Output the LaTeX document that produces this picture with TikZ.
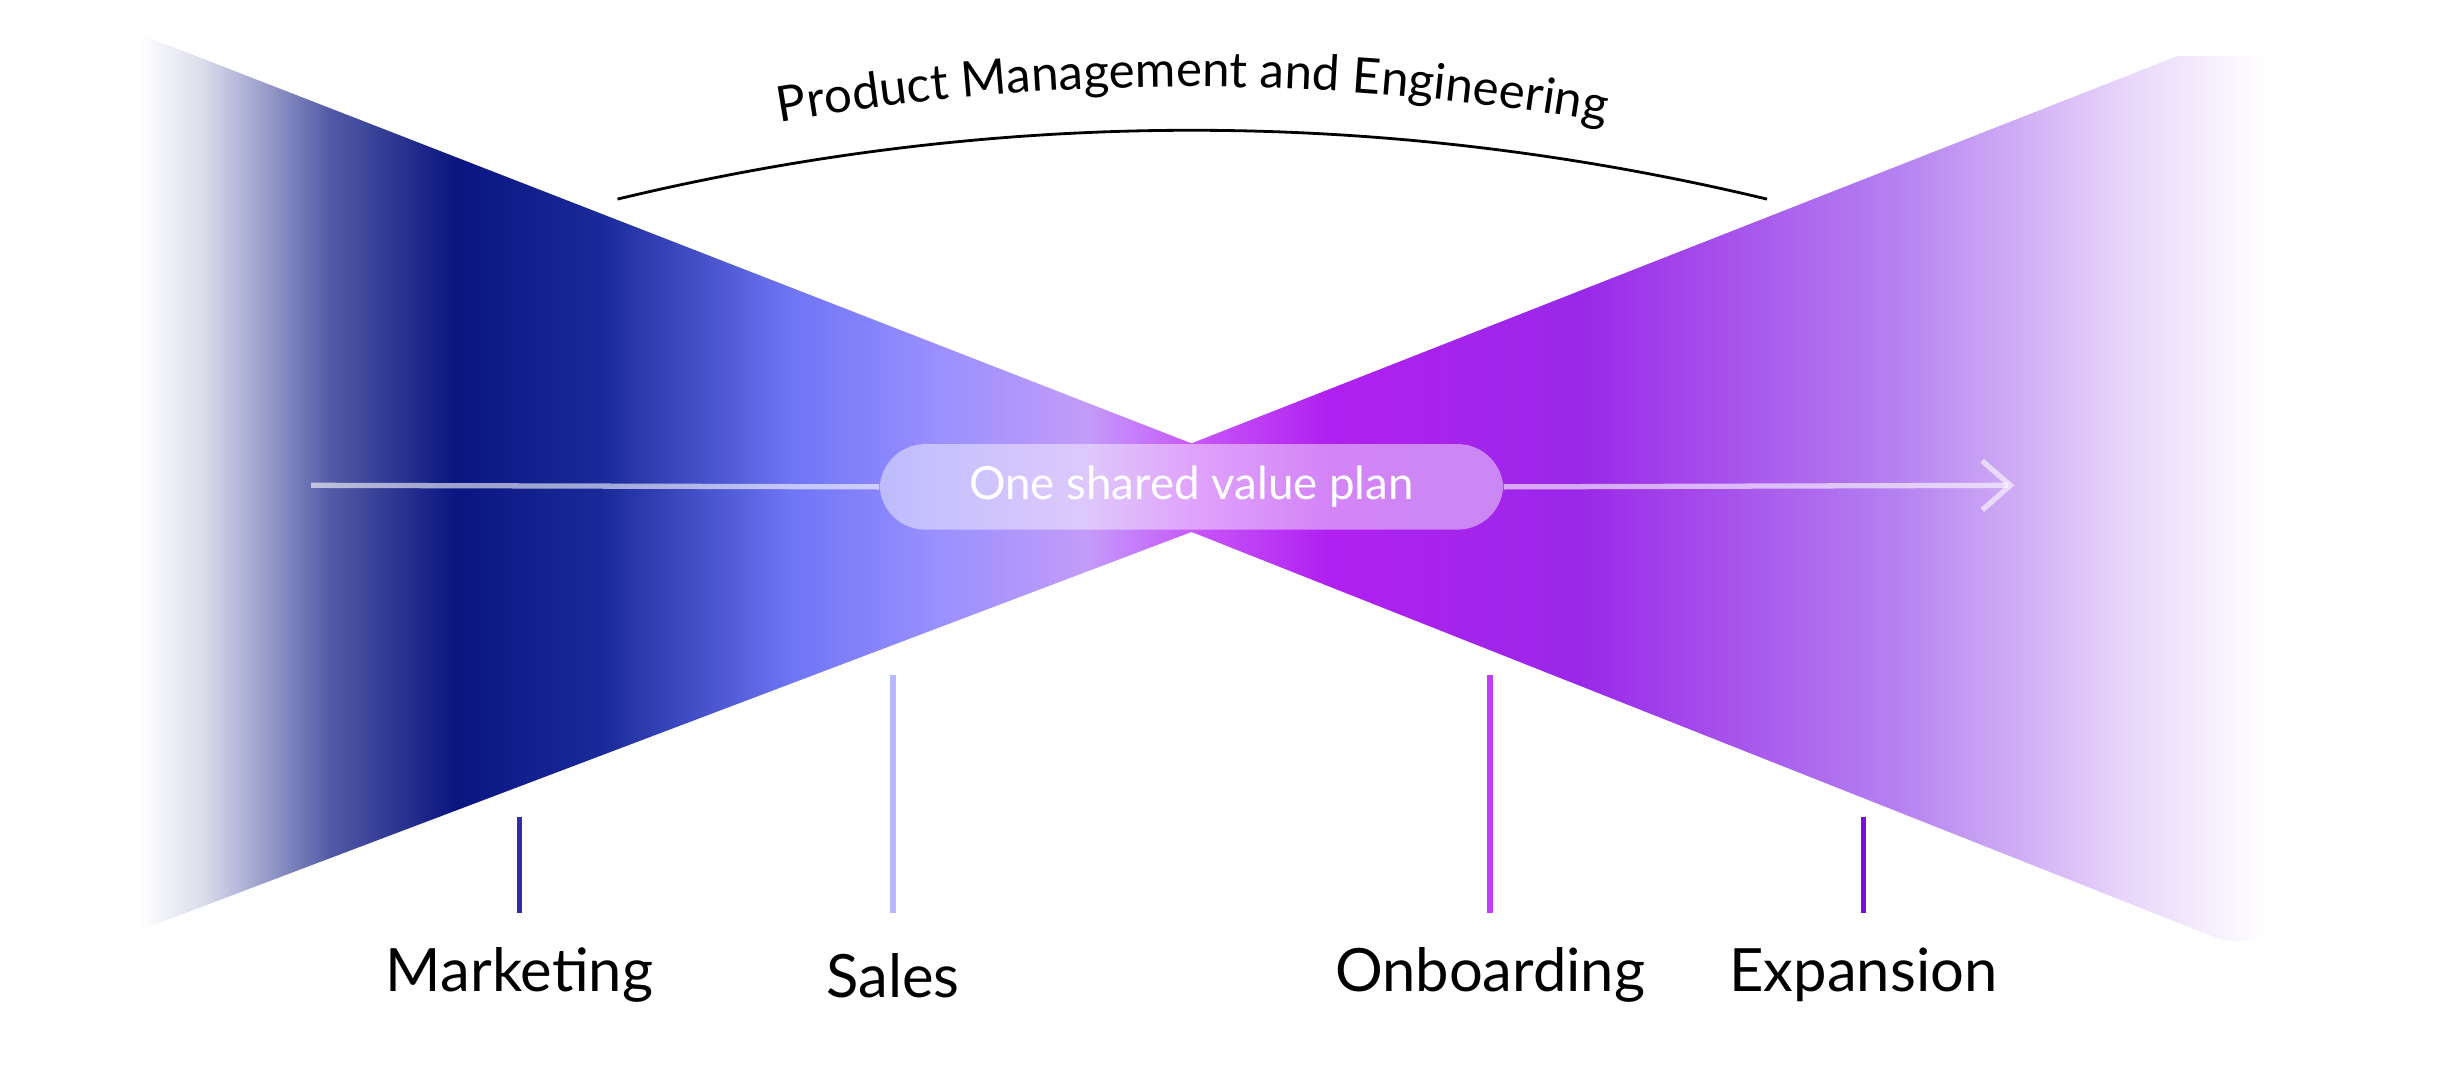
\documentclass[tikz,border=0pt]{standalone}
\usepackage{fontspec}
\setmainfont{Lato}
\usetikzlibrary{decorations.text,arrows.meta}
\definecolor{navy}{HTML}{0A1580}
\definecolor{navyB}{HTML}{1A2A9A}
\definecolor{blueM}{HTML}{6F75F5}
\definecolor{blueL}{HTML}{9A90FF}
\definecolor{lavC}{HTML}{C39CF8}
\definecolor{magC}{HTML}{C858FA}
\definecolor{magP}{HTML}{B020F0}
\definecolor{purD}{HTML}{9A28E8}
\definecolor{purL}{HTML}{B582F0}
\definecolor{purVL}{HTML}{E8D6FA}
\definecolor{tickA}{HTML}{2E2EA8}
\definecolor{tickB}{HTML}{B8B8FF}
\definecolor{tickC}{HTML}{C040F8}
\definecolor{tickD}{HTML}{7A10D8}
\pgfdeclarehorizontalshading{leftfan}{100bp}{
 color(0bp)=(white); color(25bp)=(white); color(28bp)=(white!85!navy); color(34bp)=(navy!70!white); color(40bp)=(navy); color(47bp)=(navyB); color(56bp)=(blueM); color(63bp)=(blueL); color(70bp)=(lavC); color(75bp)=(magC); color(100bp)=(magC)}
\pgfdeclarehorizontalshading{rightfan}{100bp}{
 color(0bp)=(magC); color(25bp)=(magC); color(31bp)=(magP); color(42bp)=(purD); color(56bp)=(purL); color(66bp)=(purVL); color(72bp)=(white); color(100bp)=(white)}
\tikzset{
  tick/.style={line width=1.6pt},
  lab/.style={font=\fontsize{17}{20}\selectfont, text=black},
  flow/.style={white,opacity=0.6,line width=1.5pt},
}
\begin{document}
\begin{tikzpicture}[x=0.01556cm,y=-0.01556cm]
\useasboundingbox (0,0) rectangle (1568,684.7);
\shade[shading=leftfan] (90,22) -- (766,285) -- (766,342) -- (90,598) -- cycle;
\shade[shading=rightfan] (766,285) -- (1400,36) -- (1500,36) -- (1500,605) -- (1430,605) -- (766,342) -- cycle;
% arc
\draw[line width=0.8pt] (397,128) .. controls (643,69) and (889,69) .. (1136,128);
\path[decorate,decoration={text along path,text align=center,text={|\fontsize{14}{16}\selectfont|Product Management and Engineering}}]
 (397,100) .. controls (643,41) and (889,41) .. (1136,100);
% arrow
\coordinate (as) at (200,312);
\coordinate (ae) at (1295,312);
\node[fill=white,fill opacity=0.45,text opacity=1,text=white,rounded corners=13pt,minimum width=401*0.01556cm,minimum height=55*0.01556cm,font=\fontsize{13}{15}\selectfont] (pill) at (766,313) {One shared value plan};
\draw[flow] (as) -- (pill.west);
\draw[flow,-{Straight Barb[length=8pt,width=14pt]}] (pill.east) -- (ae);
% ticks
\coordinate (m1) at (334,525); \coordinate (m2) at (334,587);
\coordinate (s1) at (574,434); \coordinate (s2) at (574,587);
\coordinate (o1) at (958,434); \coordinate (o2) at (958,587);
\coordinate (e1) at (1198,525); \coordinate (e2) at (1198,587);
\draw[tick,tickA] (m1) -- (m2);
\draw[tick,tickB] (s1) -- (s2);
\draw[tick,tickC] (o1) -- (o2);
\draw[tick,tickD] (e1) -- (e2);
\node[lab] (lm) at (334,627) {Marketing};
\node[lab] (ls) at (574,627) {Sales};
\node[lab] (lo) at (958,627) {Onboarding};
\node[lab] (le) at (1198,627) {Expansion};
\end{tikzpicture}
\end{document}
